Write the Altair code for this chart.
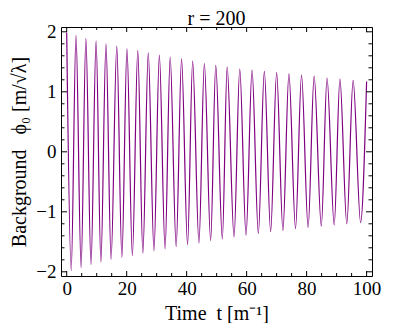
import altair as alt
import pandas as pd

# Extrema of the oscillation (t, phi0)
peak_t = [0, 3.1, 6.4, 9.8, 13.1, 16.7, 20.1, 23.7, 27.2, 30.9, 34.5, 38.3, 42.0,
          45.9, 49.7, 53.5, 57.7, 61.8, 65.9, 70.0, 74.1, 78.3, 82.5, 86.8, 91.1, 95.5, 100.0]
peak_v = [1.99, 1.94, 1.89, 1.85, 1.80, 1.76, 1.72, 1.69, 1.65, 1.61, 1.58, 1.55, 1.51,
          1.47, 1.44, 1.41, 1.38, 1.36, 1.34, 1.32, 1.30, 1.28, 1.26, 1.23, 1.21, 1.19, 1.17]
trough_t = [1.5, 4.8, 8.1, 11.4, 14.8, 18.4, 21.9, 25.4, 29.1, 32.8, 36.5, 40.3, 44.1,
            48.0, 51.9, 55.8, 59.8, 63.9, 68.0, 72.1, 76.3, 80.5, 84.9, 89.2, 93.4, 98.0]
trough_v = [-1.98, -1.93, -1.88, -1.84, -1.79, -1.76, -1.73, -1.69, -1.65, -1.62, -1.58, -1.55, -1.52,
            -1.48, -1.45, -1.42, -1.39, -1.36, -1.33, -1.31, -1.28, -1.26, -1.24, -1.22, -1.20, -1.18]

x_major = [0, 20, 40, 60, 80, 100]
x_minor = [5, 10, 15, 25, 30, 35, 45, 50, 55, 65, 70, 75, 85, 90, 95]
y_major = [-2, -1, 0, 1, 2]
y_minor = [-1.8, -1.6, -1.4, -1.2, -0.8, -0.6, -0.4, -0.2,
           0.2, 0.4, 0.6, 0.8, 1.2, 1.4, 1.6, 1.8]

W, H = 311, 249
FONT = "Liberation Serif"
LINE_COLOR = "#800080"

df = pd.DataFrame({"t": peak_t + trough_t, "phi": peak_v + trough_v}).sort_values("t")

xs = alt.Scale(domain=[-1.9, 101.8], nice=False, zero=False)
ys = alt.Scale(domain=[-2.07, 2.08], nice=False, zero=False)

xaxis = alt.Axis(
    values=x_major, title="Time\u2002t [m⁻¹]", ticks=False, domain=False, grid=False,
    labelFont=FONT, labelFontSize=19, labelColor="black", labelPadding=3,
    titleFont=FONT, titleFontSize=20, titleFontWeight="normal", titleColor="black",
    titlePadding=5, format="d")
yaxis = alt.Axis(
    values=y_major, title="Background\u2002 ϕ₀ [m/√λ]", ticks=False, domain=False, grid=False,
    labelFont=FONT, labelFontSize=19, labelColor="black", labelPadding=5,
    titleFont=FONT, titleFontSize=20, titleFontWeight="normal", titleColor="black",
    titlePadding=6, format="d")

line = alt.Chart(df).mark_line(
    color=LINE_COLOR, strokeWidth=1.2, interpolate="monotone"
).encode(
    x=alt.X("t:Q", scale=xs, axis=xaxis),
    y=alt.Y("phi:Q", scale=ys, axis=yaxis),
    order="t:Q",
)


def xticks(vals, y0, y1):
    return alt.Chart(pd.DataFrame({"t": vals})).mark_rule(color="black", strokeWidth=1).encode(
        x=alt.X("t:Q", scale=xs, axis=xaxis), y=alt.value(y0), y2=alt.value(y1))


def yticks(vals, x0, x1):
    return alt.Chart(pd.DataFrame({"phi": vals})).mark_rule(color="black", strokeWidth=1).encode(
        y=alt.Y("phi:Q", scale=ys, axis=yaxis), x=alt.value(x0), x2=alt.value(x1))


layers = [
    line,
    xticks(x_major, H, H - 5), xticks(x_minor, H, H - 3),
    xticks(x_major, 0, 5), xticks(x_minor, 0, 3),
    yticks(y_major, 0, 6), yticks(y_minor, 0, 3.5),
    yticks(y_major, W, W - 6), yticks(y_minor, W, W - 3.5),
]

chart = alt.layer(*layers).properties(
    width=W, height=H,
    title=alt.TitleParams("r = 200", font=FONT, fontSize=20, fontWeight="normal",
                          color="black", anchor="middle", offset=-6),
    padding={"left": 1, "top": 0, "right": 5, "bottom": 0},
).configure_view(stroke="black", strokeWidth=1)

chart.save("out.html", embed_options={"renderer": "svg", "actions": False})
